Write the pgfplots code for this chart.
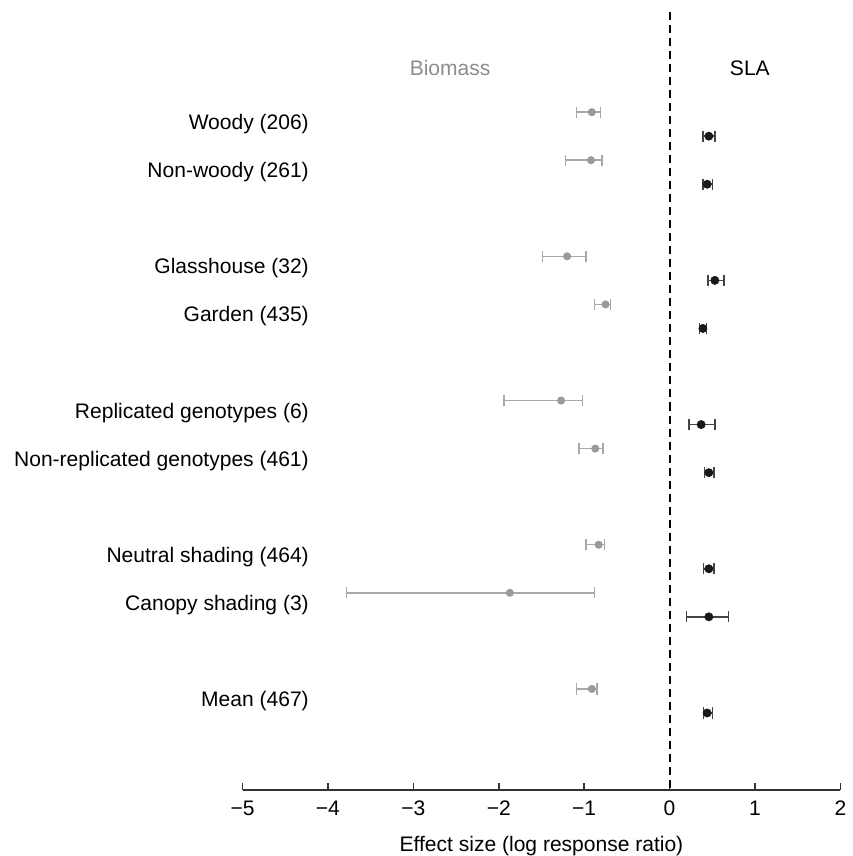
\documentclass[border=0pt]{standalone}
\usepackage{fontspec}
\setmainfont{Liberation Sans}
\usepackage{pgfplots}
\pgfplotsset{compat=1.18}
\usepackage{pgfplotstable}

\definecolor{bmgray}{HTML}{9A9A9A}
\definecolor{bmbar}{HTML}{A8A8A8}
\definecolor{slabar}{HTML}{444444}
\definecolor{titlegray}{HTML}{8C8C8C}

\pgfplotstableread{
y x lo hi
0 -0.91 -1.09 -0.81
-2 -0.92 -1.22 -0.79
-6 -1.20 -1.49 -0.98
-8 -0.75 -0.88 -0.69
-12 -1.27 -1.94 -1.02
-14 -0.87 -1.06 -0.78
-18 -0.83 -0.98 -0.76
-20 -1.87 -3.78 -0.88
-24 -0.91 -1.09 -0.85
}\biomass

\pgfplotstableread{
y x lo hi
-1 0.46 0.39 0.53
-3 0.44 0.39 0.50
-7 0.53 0.45 0.64
-9 0.39 0.35 0.43
-13 0.37 0.23 0.53
-15 0.46 0.41 0.52
-19 0.46 0.40 0.52
-21 0.46 0.20 0.69
-25 0.44 0.40 0.50
}\sla

\begin{document}
\begin{tikzpicture}
\begin{axis}[
  scale only axis,
  width=298.5pt, height=394.5pt,
  xmin=-5, xmax=2, ymin=-28.21, ymax=4.667,
  axis x line=bottom, axis y line=none,
  axis line style={-, line width=0.75pt, color=black!80},
  clip=false,
  xtick={-5,-4,-3,-2,-1,0,1,2},
  xticklabels={−5,−4,−3,−2,−1,0,1,2},
  tick align=inside,
  major tick length=3.5pt,
  tick style={line width=0.75pt, color=black!80},
  xticklabel style={yshift=-2pt},
  font=\fontsize{10.5}{12.6}\selectfont,
  xlabel={Effect size (log response ratio)},
  every axis x label/.style={at={(axis description cs:0.5,0)}, anchor=center, inner sep=0pt, yshift=-28pt},
]
\addplot[dashed, dash pattern=on 4pt off 2.5pt, line width=1pt, black] coordinates {(0,4.17) (0,-28.21)};

\addplot[only marks, mark=*, mark size=1.8pt, color=bmgray,
  error bars/.cd, x dir=both, x explicit,
  error mark=|, error mark options={mark size=2.8pt, line width=0.75pt, bmbar},
  error bar style={line width=0.75pt, bmbar}]
  table[x=x, y=y, x error plus expr=\thisrow{hi}-\thisrow{x}, x error minus expr=\thisrow{x}-\thisrow{lo}] {\biomass};

\addplot[only marks, mark=*, mark size=2pt, color=black!90,
  error bars/.cd, x dir=both, x explicit,
  error mark=|, error mark options={mark size=2.8pt, line width=0.75pt, slabar},
  error bar style={line width=0.75pt, slabar}]
  table[x=x, y=y, x error plus expr=\thisrow{hi}-\thisrow{x}, x error minus expr=\thisrow{x}-\thisrow{lo}] {\sla};

\node[anchor=east, inner sep=0pt] at (axis cs:-4.22,-0.5) {Woody (206)};
\node[anchor=east, inner sep=0pt] at (axis cs:-4.22,-2.5) {Non-woody (261)};
\node[anchor=east, inner sep=0pt] at (axis cs:-4.22,-6.5) {Glasshouse (32)};
\node[anchor=east, inner sep=0pt] at (axis cs:-4.22,-8.5) {Garden (435)};
\node[anchor=east, inner sep=0pt] at (axis cs:-4.22,-12.5) {Replicated genotypes (6)};
\node[anchor=east, inner sep=0pt] at (axis cs:-4.22,-14.5) {Non-replicated genotypes (461)};
\node[anchor=east, inner sep=0pt] at (axis cs:-4.22,-18.5) {Neutral shading (464)};
\node[anchor=east, inner sep=0pt] at (axis cs:-4.22,-20.5) {Canopy shading (3)};
\node[anchor=east, inner sep=0pt] at (axis cs:-4.22,-24.5) {Mean (467)};

\node[text=titlegray, inner sep=0pt] at (axis cs:-2.57,1.83) {Biomass};
\node[inner sep=0pt] at (axis cs:0.94,1.83) {SLA};
\path (axis cs:-7.84,-30.87) -- (axis cs:2.05,4.667);
\end{axis}
\end{tikzpicture}
\end{document}
